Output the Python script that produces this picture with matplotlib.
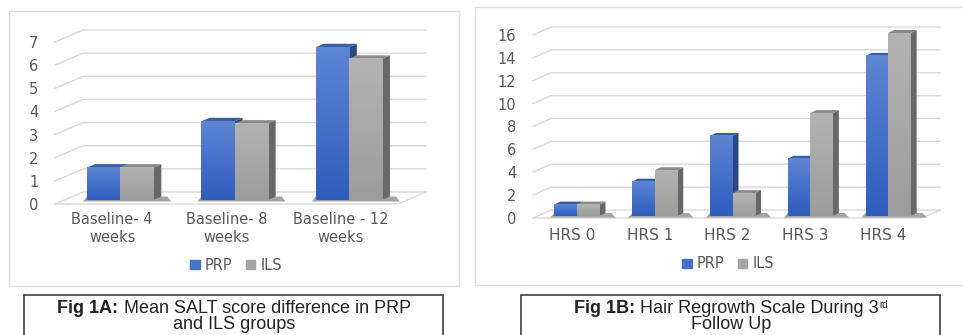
import numpy as np
import matplotlib.pyplot as plt
from matplotlib.patches import Polygon, Rectangle, Patch
from matplotlib.colors import LinearSegmentedColormap

W, H = 963, 335

# Fig 1A: mean SALT score difference
salt_groups = ["Baseline- 4\nweeks", "Baseline- 8\nweeks", "Baseline - 12\nweeks"]
salt_prp = [1.4, 3.4, 6.6]
salt_ils = [1.4, 3.3, 6.1]
salt_ticks = [0, 1, 2, 3, 4, 5, 6, 7]

# Fig 1B: hair regrowth scale at 3rd follow up
hrs_groups = ["HRS 0", "HRS 1", "HRS 2", "HRS 3", "HRS 4"]
hrs_prp = [1, 3, 7, 5, 14]
hrs_ils = [1, 4, 2, 9, 16]
hrs_ticks = [0, 2, 4, 6, 8, 10, 12, 14, 16]

series = ["PRP", "ILS"]

TEXT = "#595959"
GRID = "#d9d9d9"
colors = {
    "PRP": dict(front="#4472c4", lo="#2f5dbd", hi="#5d85d4", side="#2a4783", top="#3a5ea6"),
    "ILS": dict(front="#a5a5a5", lo="#9c9c9c", hi="#b3b3b3", side="#686868", top="#8b8b8b"),
}

plt.rcParams["font.family"] = "DejaVu Sans"

fig = plt.figure(figsize=(W / 100, H / 100), dpi=100)


def rect(x0, y0, x1, y1):
    return [x0 / W, 1 - y1 / H, (x1 - x0) / W, (y1 - y0) / H]


def px2data(ax, dx, dy):
    pos = ax.get_position()
    xa, xb = ax.get_xlim()
    ya, yb = ax.get_ylim()
    return dx * (xb - xa) / (pos.width * W), dy * (yb - ya) / (pos.height * H)


def bars3d(ax, groups, prp, ils, ticks, grid_off, bar_off, depth, width, pad_y, pad_x, yfs, xfs):
    n = len(groups)
    xlim = (-0.5, n - 0.5)
    ylim = (0, ticks[-1])
    ax.set_xlim(xlim)
    ax.set_ylim(ylim)
    for s in ax.spines.values():
        s.set_visible(False)
    ax.patch.set_visible(False)

    gx, gy = px2data(ax, *grid_off)
    bx, by = px2data(ax, *bar_off)
    sx, sy = px2data(ax, *depth)
    ex, ey = px2data(ax, 4, 1.5)

    # back wall lines with the left edge running to the front
    x0, x1 = xlim
    for v in ticks:
        ax.plot([x0, x0 + gx, x1 + gx], [v, v + gy, v + gy], color=GRID, lw=1,
                clip_on=False, zorder=1)
    ax.plot([x0, x1, x1 + gx], [0, 0, gy], color=GRID, lw=1, clip_on=False, zorder=1)

    for i in range(n):
        g_left = i + bx - width
        g_right = i + bx + width
        # floor shadow under each pair of bars
        shadow = Polygon([(g_left - ex, by - ey), (g_right + sx + 2.5 * ex, by - ey),
                          (g_right + sx + 1.5 * ex, by + sy), (g_left, by + sy)],
                         color="#5a5a5a", alpha=0.55, lw=0, zorder=2, clip_on=False)
        ax.add_patch(shadow)
        for j, name in enumerate(series):
            v = (prp, ils)[j][i]
            c = colors[name]
            left = g_left + j * width
            right = left + width
            z = 3 + i * 10 + j * 4
            side = Polygon([(right, by), (right + sx, by + sy), (right + sx, by + sy + v),
                            (right, by + v)], color=c["side"], lw=0, zorder=z, clip_on=False)
            top = Polygon([(left, by + v), (left + sx, by + v + sy), (right + sx, by + v + sy),
                           (right, by + v)], color=c["top"], lw=0, zorder=z, clip_on=False)
            ax.add_patch(side)
            ax.add_patch(top)
            ax.bar(left, v, width=width, bottom=by, align="edge", color=c["front"],
                   lw=0, zorder=z + 1, clip_on=False)
            cm = LinearSegmentedColormap.from_list(name, [c["lo"], c["hi"]])
            ax.imshow(np.linspace(0, 1, 64).reshape(-1, 1), extent=(left, right, by, by + v),
                      origin="lower", cmap=cm, aspect="auto", zorder=z + 2, clip_on=False)

    ax.set_xlim(xlim)
    ax.set_ylim(ylim)
    ax.set_yticks(ticks)
    ax.set_xticks(range(n), groups)
    ax.tick_params(axis="y", length=0, pad=pad_y, labelsize=yfs, labelcolor=TEXT)
    ax.tick_params(axis="x", length=0, pad=pad_x, labelsize=xfs, labelcolor=TEXT)


# panel frames
fig.add_artist(Rectangle((9 / W, 1 - 286 / H), 450 / W, 275 / H, transform=fig.transFigure,
                         fill=False, ec="#e0e0e0", lw=1))
fig.add_artist(Rectangle((475 / W, 1 - 285 / H), 500 / W, 278 / H, transform=fig.transFigure,
                         fill=False, ec="#e0e0e0", lw=1))

ax1 = fig.add_axes(rect(55, 42, 398, 204))
bars3d(ax1, salt_groups, salt_prp, salt_ils, salt_ticks, grid_off=(28, 12), bar_off=(8, 4),
       depth=(8, 3.5), width=0.29, pad_y=12, pad_x=6, yfs=10.5, xfs=10.5)

ax2 = fig.add_axes(rect(533, 35, 922, 218))
bars3d(ax2, hrs_groups, hrs_prp, hrs_ils, hrs_ticks, grid_off=(18, 8), bar_off=(5, 2),
       depth=(6, 3), width=0.29, pad_y=12, pad_x=7, yfs=10.5, xfs=11)

handles = [Patch(color=colors[s]["front"]) for s in series]
for xc, yc in [(236, 265), (728, 264)]:
    fig.legend(handles, series, loc="center", bbox_to_anchor=(xc / W, 1 - yc / H), ncol=2,
               frameon=False, handlelength=0.65, handleheight=0.65, handletextpad=0.35,
               columnspacing=0.9, fontsize=10.5, labelcolor=TEXT)

# caption boxes
fig.add_artist(Rectangle((24 / W, -0.05), 419 / W, 1 - 295 / H + 0.05, transform=fig.transFigure,
                         fill=False, ec="#404040", lw=1.2))
fig.add_artist(Rectangle((521 / W, -0.05), 419 / W, 1 - 295 / H + 0.05, transform=fig.transFigure,
                         fill=False, ec="#404040", lw=1.2))

renderer = fig.canvas.get_renderer()
CAP = dict(family="Liberation Sans", fontsize=13, color="#222222")


def caption_line(xc, ybase, parts):
    texts = []
    for s, kw, dy in parts:
        t = fig.text(0, 1 - (ybase - dy) / H, s, va="baseline", **{**CAP, **kw})
        texts.append(t)
    widths = [t.get_window_extent(renderer).width for t in texts]
    x = xc - sum(widths) / 2
    for t, w in zip(texts, widths):
        t.set_x(x / W)
        x += w


caption_line(234, 313, [("Fig 1A:", dict(weight="bold"), 0),
                        (" Mean SALT score difference in PRP", {}, 0)])
caption_line(234, 329, [("and ILS groups", {}, 0)])
caption_line(731, 313, [("Fig 1B:", dict(weight="bold"), 0),
                        (" Hair Regrowth Scale During 3", {}, 0),
                        ("rd", dict(fontsize=7), 5)])
caption_line(731, 329, [("Follow Up", {}, 0)])

fig.savefig("out.png", dpi=100)
